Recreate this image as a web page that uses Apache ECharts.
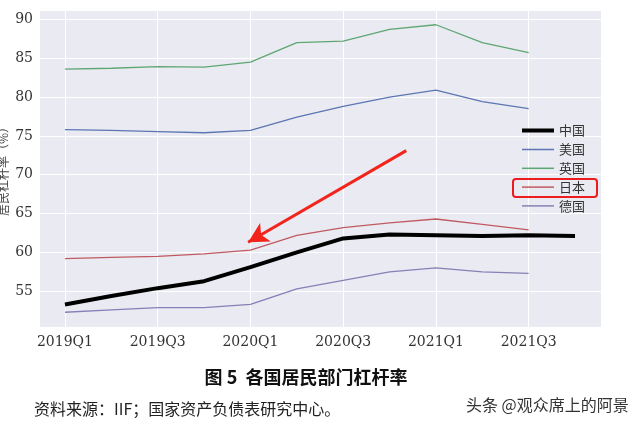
<!DOCTYPE html>
<html><head><meta charset="utf-8">
<script src="https://cdn.jsdelivr.net/npm/echarts@6/dist/echarts.min.js"></script>
<style>html,body{margin:0;padding:0;background:#fff;}#c{width:640px;height:423px;}</style>
</head><body><div id="c"></div>
<script>
var quarters = ['2019Q1','2019Q2','2019Q3','2019Q4','2020Q1','2020Q2','2020Q3','2020Q4','2021Q1','2021Q2','2021Q3','2021Q4'];
var china   = [53.3, 54.4, 55.4, 56.3, 58.1, 60.0, 61.8, 62.3, 62.2, 62.1, 62.2, 62.1];
var us      = [75.8, 75.7, 75.55, 75.4, 75.7, 77.4, 78.8, 80.0, 80.9, 79.4, 78.5, null];
var uk      = [83.6, 83.7, 83.9, 83.85, 84.5, 87.0, 87.2, 88.7, 89.3, 87.0, 85.7, null];
var japan   = [59.2, 59.35, 59.5, 59.8, 60.3, 62.2, 63.2, 63.8, 64.3, 63.6, 62.9, null];
var germany = [52.3, 52.6, 52.9, 52.9, 53.3, 55.3, 56.4, 57.5, 58.0, 57.5, 57.3, null];
var names = ['中国','美国','英国','日本','德国'];
var yTicks = [55, 60, 65, 70, 75, 80, 85, 90];

function pts(arr){ var o=[]; arr.forEach(function(v,i){ if(v!=null) o.push([i,v]); }); return o; }

var chart = echarts.init(document.getElementById('c'));
var serifFont = '"DejaVu Serif", "Liberation Serif", serif';
var cjk = '"Noto Sans CJK SC", sans-serif';
var legendText = {fontFamily:cjk, fontSize:13, color:'#333'};
chart.setOption({
  animation:false,
  backgroundColor:'#ffffff',
  title:[
    {text:'图 5  各国居民部门杠杆率', left:301, top:363, textAlign:'center',
     textStyle:{fontFamily:cjk, fontWeight:'bold', fontSize:18, color:'#111'}},
    {text:'资料来源：IIF；国家资产负债表研究中心。', left:29, top:396,
     textStyle:{fontFamily:cjk, fontWeight:'normal', fontSize:16, color:'#222'}},
    {text:'头条 @观众席上的阿景', left:461, top:392,
     textStyle:{fontFamily:cjk, fontWeight:'normal', fontSize:16, color:'#333'}}
  ],
  grid:{left:39, right:39, top:10, bottom:96, show:true, backgroundColor:'#eaeaf2', borderWidth:0,
        containLabel:false, outerBoundsMode:'none'},
  legend:[
    {orient:'vertical', left:517, top:119, itemWidth:32, itemHeight:4, itemGap:6,
     icon:'rect', data:['中国'], textStyle:legendText},
    {orient:'vertical', left:517, top:138, itemWidth:32, itemHeight:1.5, itemGap:5.8,
     icon:'rect', data:['美国','英国','日本','德国'], textStyle:legendText}
  ],
  xAxis:{
    type:'value', min:-0.56, max:11.56, splitNumber:6,
    axisLine:{show:false}, axisTick:{show:false},
    splitLine:{show:true, lineStyle:{color:'#ffffff', width:1}},
    axisLabel:{fontFamily:serifFont, fontSize:14, color:'#333', margin:8,
      showMinLabel:false, showMaxLabel:false,
      formatter:function(v){ return (Math.abs(v-Math.round(v))<1e-6 && Math.round(v)%2===0 && quarters[Math.round(v)]) ? quarters[Math.round(v)] : ''; }}
  },
  yAxis:{
    type:'value', min:50.4, max:91.2, splitNumber:8,
    name:'居民杠杆率（%）', nameLocation:'middle', nameGap:30, nameRotate:90, nameMoveOverlap:false,
    nameTextStyle:{fontFamily:cjk, fontSize:12, color:'#444'},
    axisLine:{show:false}, axisTick:{show:false},
    splitLine:{show:true, lineStyle:{color:'#ffffff', width:1}},
    axisLabel:{fontFamily:serifFont, fontSize:14, color:'#333', margin:6,
      showMinLabel:false, showMaxLabel:false,
      formatter:function(v){ return yTicks.indexOf(v)>=0 ? String(v) : ''; }}
  },
  series:[
    {name:'中国', type:'line', data:pts(china), symbol:'none', z:5,
     lineStyle:{color:'#000', width:4}, itemStyle:{color:'#000'},
     markLine:{silent:true, symbol:['none','arrow'], symbolSize:[16,20], label:{show:false},
       lineStyle:{color:'#f2241c', width:3, type:'solid'},
       data:[[{coord:[7.36,73.1]},{coord:[3.95,61.3]}]]}},
    {name:'美国', type:'line', data:pts(us), symbol:'none',
     lineStyle:{color:'#5b76b3', width:1.3}, itemStyle:{color:'#5b76b3'}},
    {name:'英国', type:'line', data:pts(uk), symbol:'none',
     lineStyle:{color:'#5ea672', width:1.3}, itemStyle:{color:'#5ea672'}},
    {name:'日本', type:'line', data:pts(japan), symbol:'none',
     lineStyle:{color:'#c05a60', width:1.3}, itemStyle:{color:'#c05a60'}},
    {name:'德国', type:'line', data:pts(germany), symbol:'none',
     lineStyle:{color:'#8580b6', width:1.3}, itemStyle:{color:'#8580b6'}}
  ],
  graphic:[
    {type:'rect', shape:{x:513, y:179, width:84, height:18, r:3},
     style:{fill:'none', stroke:'#ee1c1c', lineWidth:2}, z:100}
  ]
});
</script></body></html>
